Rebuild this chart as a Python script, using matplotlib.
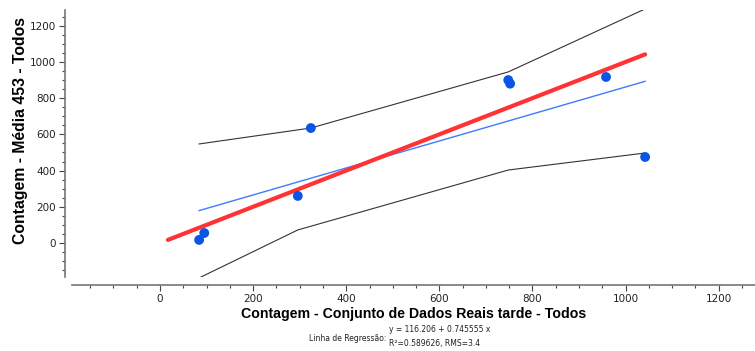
import matplotlib.pyplot as plt
from matplotlib.ticker import MultipleLocator

# data
real_x = [84, 95, 296, 324, 748, 752, 958, 1042]
media_y = [17, 55, 260, 635, 900, 880, 917, 475]

# regression (as printed on the chart)
intercept = 116.206
slope = 0.745555

# identity line ends
ident = [17, 1042]

# confidence band
upper_x = [84, 324, 748, 1042]
upper_y = [547, 635, 945, 1293]
lower_x = [84, 296, 748, 1042]
lower_y = [-193, 72, 403, 497]

fig = plt.figure(figsize=(7.55, 3.51), dpi=100)
ax = fig.add_axes([0.0954, 0.2108, 0.9046, 0.7607])

ax.plot(upper_x, upper_y, color='#333333', lw=0.8, zorder=2)
ax.plot(lower_x, lower_y, color='#333333', lw=0.8, zorder=2)

reg_x = [min(real_x), max(real_x)]
reg_y = [intercept + slope * v for v in reg_x]
ax.plot(reg_x, reg_y, color='#3d7bff', lw=1.0, zorder=3)
ax.plot(ident, ident, color='#ff3333', lw=3.0, solid_capstyle='round', zorder=3)

ax.scatter(real_x, media_y, s=50, color='#0a55e6', edgecolors='none', zorder=4)

ax.set_xlim(-189, 1278)
ax.set_ylim(-188, 1287)

for s in ['top', 'right']:
    ax.spines[s].set_visible(False)
ax.spines['left'].set_position(('outward', 5))
ax.spines['bottom'].set_position(('outward', 6))
for s in ['left', 'bottom']:
    ax.spines[s].set_color('#777777')
    ax.spines[s].set_linewidth(1.2)

ax.xaxis.set_major_locator(MultipleLocator(200))
ax.xaxis.set_minor_locator(MultipleLocator(50))
ax.yaxis.set_major_locator(MultipleLocator(200))
ax.yaxis.set_minor_locator(MultipleLocator(50))
ax.tick_params(which='major', length=4, width=0.8, color='#444444', labelsize=7.5,
               labelcolor='#222222', pad=2.5)
ax.tick_params(which='minor', length=2.5, width=0.8, color='#444444')

ax.set_xlabel('Contagem - Conjunto de Dados Reais tarde - Todos', fontsize=10.2,
              fontweight='bold', family='Liberation Sans', labelpad=2)
ax.set_ylabel('Contagem - Média 453 - Todos', fontsize=11.3,
              fontweight='bold', family='Liberation Sans')
ax.yaxis.set_label_coords(-0.064, 0.547)

fig.text(0.512, 0.037, 'Linha de Regressão:', ha='right', va='center', fontsize=5.5, color='#222222')
fig.text(0.515, 0.060, 'y = 116.206 + 0.745555 x', ha='left', va='center', fontsize=5.5, color='#222222')
fig.text(0.515, 0.020, 'R²=0.589626, RMS=3.4', ha='left', va='center', fontsize=5.5, color='#222222')

fig.savefig('out.png', dpi=100)
